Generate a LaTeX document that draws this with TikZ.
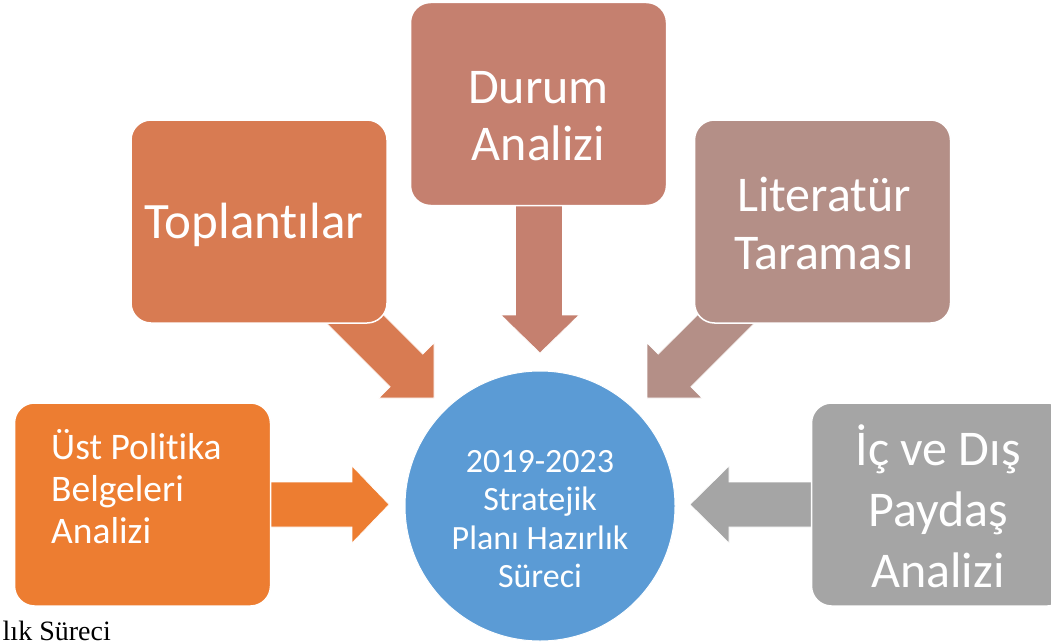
\documentclass[tikz,border=0pt]{standalone}
\usepackage{fontspec}
\setmainfont{Carlito}[Ligatures=NoCommon]
\newfontfamily\capfont{Liberation Serif}
\definecolor{cTop}{HTML}{D87B52}
\definecolor{cDur}{HTML}{C5806F}
\definecolor{cLit}{HTML}{B48F87}
\definecolor{cUst}{HTML}{ED7D31}
\definecolor{cIc}{HTML}{A5A5A5}
\definecolor{cCir}{HTML}{5B9BD5}
\begin{document}
\begin{tikzpicture}[x=1pt,y=-1pt,
  boxshape/.style={rectangle, rounded corners=20pt, draw=white, line width=1.5pt,
    minimum width=256pt, minimum height=203pt, inner sep=0pt},
  bigtext/.style={text=white, align=center, inner sep=0pt, anchor=base,
    font=\fontsize{50}{58}\selectfont},
  midtext/.style={text=white, align=left, inner sep=0pt, anchor=base west,
    font=\fontsize{37.5}{42}\selectfont},
  cirtext/.style={text=white, align=center, inner sep=0pt, anchor=base,
    font=\fontsize{34}{38.5}\selectfont},
  blockarrow/.style={draw=white, line width=0.6pt}
]
\useasboundingbox (0,0) rectangle (1051,642);

% block arrows
\fill[cTop, blockarrow] (323,319.5) -- (390.16,386.68) -- (378.84,398) -- (434,398)
  -- (434,342.84) -- (422.68,354.16) -- (355.5,287) -- cycle;
\fill[cLit, blockarrow] (758,319.5) -- (690.84,386.68) -- (702.16,398) -- (647,398)
  -- (647,342.84) -- (658.32,354.16) -- (725.5,287) -- cycle;
\fill[cDur, blockarrow] (515.5,200) -- (562.5,200) -- (562.5,315) -- (579,315)
  -- (540,353) -- (501,315) -- (515.5,315) -- cycle;
\fill[cUst, blockarrow] (265,482) -- (352,482) -- (352,466) -- (389,504.5)
  -- (352,543) -- (352,527) -- (265,527) -- cycle;
\fill[cIc, blockarrow] (818,482) -- (729,482) -- (729,466) -- (690,504.5)
  -- (729,543) -- (729,527) -- (818,527) -- cycle;

% boxes
\node[boxshape, fill=cTop] (topl) at (259,221.5) {};
\node[boxshape, fill=cDur] (dur) at (538.5,104) {};
\node[boxshape, fill=cLit] (lit) at (822.5,221.5) {};
\node[boxshape, fill=cUst] (ust) at (142.5,504.5) {};
\node[boxshape, fill=cIc] (ic) at (939.5,504.5) {};

% centre circle
\node[circle, fill=cCir, draw=white, line width=1pt, minimum size=270pt, inner sep=0pt] (cir) at (540,506) {};

% texts (anchor = baseline of the last line)
\node[bigtext, font=\fontsize{51}{58}\selectfont] (tTopl) at (254,238) {Toplantılar};
\node[bigtext, font=\fontsize{50}{57}\selectfont] (tDur) at (538.5,160) {Durum\\Analizi};
\node[bigtext] (tLit) at (824,269) {Literatür\\Taraması};
\node[midtext] (tUst) at (51,543) {Üst Politika\\Belgeleri\\Analizi};
\node[bigtext, font=\fontsize{50}{61}\selectfont] (tIc) at (938,587) {İç ve Dış\\Paydaş\\Analizi};
\node[cirtext] (tCir) at (540,587.5) {2019-2023\\Stratejik\\Planı Hazırlık\\Süreci};

% caption fragment
\node[anchor=base east, inner sep=0pt, font=\capfont\fontsize{28}{32}\selectfont] (cap) at (111,640) {lık Süreci};
\end{tikzpicture}
\end{document}
